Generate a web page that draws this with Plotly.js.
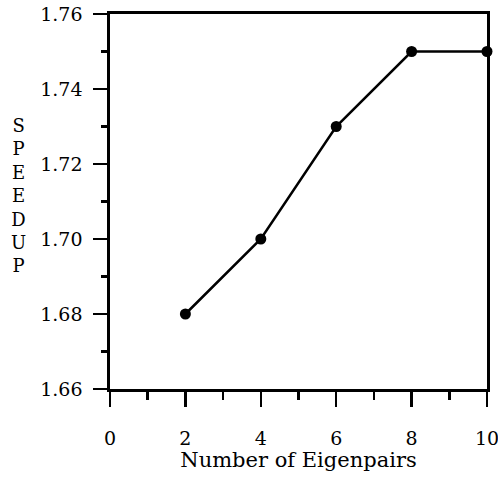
<!DOCTYPE html>
<html>
<head>
<meta charset="utf-8">
<script src="https://cdn.plot.ly/plotly-3.0.1.min.js"></script>
<style>html,body{margin:0;padding:0;background:#fff;}#chart{width:498px;height:478px;}</style>
</head>
<body>
<div id="chart"></div>
<script>
const eigenpairs = [2, 4, 6, 8, 10];
const speedup = [1.68, 1.70, 1.73, 1.75, 1.75];
const xTitle = "Number of Eigenpairs";
const yTitle = "SPEEDUP";

const FONT = "DejaVu Serif, Liberation Serif, serif";

const trace = {
  x: eigenpairs,
  y: speedup,
  type: "scatter",
  mode: "lines+markers",
  line: {color: "#000", width: 2.5},
  marker: {color: "#000", size: 11},
  cliponaxis: false,
  showlegend: false
};

const layout = {
  width: 498,
  height: 478,
  margin: {l: 110, r: 11, t: 14, b: 89},
  paper_bgcolor: "#fff",
  plot_bgcolor: "#fff",
  font: {family: FONT, color: "#000", size: 19},
  xaxis: {
    range: [0, 10],
    tickmode: "linear", tick0: 0, dtick: 2,
    ticks: "outside", ticklen: 15, tickwidth: 2.5, tickcolor: "#000",
    minor: {dtick: 1, ticks: "outside", ticklen: 8, tickwidth: 2.5, tickcolor: "#000", showgrid: false},
    showline: true, linewidth: 2.7, linecolor: "#000", mirror: true,
    showgrid: false, zeroline: false,
    ticklabelstandoff: 15,
    ticklabeloverflow: "allow",
    tickfont: {family: FONT, size: 19, color: "#000"},
    title: {text: xTitle, font: {family: FONT, size: 21, color: "#000"}, standoff: 4}
  },
  yaxis: {
    range: [1.66, 1.76],
    tickmode: "linear", tick0: 1.66, dtick: 0.02,
    tickformat: ".2f",
    ticks: "outside", ticklen: 14, tickwidth: 2.5, tickcolor: "#000",
    minor: {dtick: 0.01, ticks: "outside", ticklen: 6, tickwidth: 2.5, tickcolor: "#000", showgrid: false},
    showline: true, linewidth: 2.7, linecolor: "#000", mirror: true,
    showgrid: false, zeroline: false,
    ticklabelstandoff: 7,
    ticklabeloverflow: "allow",
    tickfont: {family: FONT, size: 19, color: "#000"}
  },
  annotations: [{
    text: yTitle.split("").join("<br>"),
    xref: "paper", yref: "paper",
    x: -0.243, y: 0.515,
    xanchor: "center", yanchor: "middle",
    showarrow: false,
    font: {family: FONT, size: 18, color: "#000"}
  }]
};

Plotly.newPlot("chart", [trace], layout, {staticPlot: true, displayModeBar: false});
</script>
</body>
</html>
